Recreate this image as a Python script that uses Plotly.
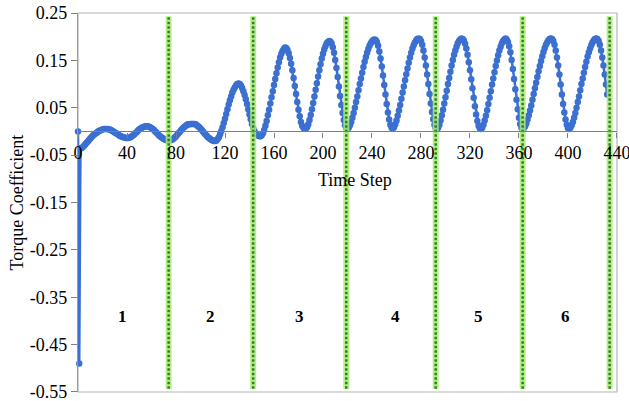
import plotly.graph_objects as go

# ---- data ----
time_step_start = 0
torque_coeff = [
    0.000, -0.490,
    # t=2..23
    -0.036, -0.035, -0.033, -0.030, -0.027, -0.024, -0.021, -0.018, -0.015, -0.012, -0.009,
    -0.007, -0.005, -0.003, -0.001, 0.001, 0.002, 0.003, 0.004, 0.005, 0.005, 0.005,
    # t=24..40
    0.005, 0.004, 0.004, 0.003, 0.001, 0.000, -0.002, -0.004, -0.005, -0.007, -0.009,
    -0.010, -0.011, -0.012, -0.013, -0.014, -0.014,
    # t=41..56
    -0.014, -0.013, -0.012, -0.010, -0.008, -0.006, -0.003, -0.001, 0.002, 0.004, 0.006,
    0.008, 0.009, 0.010, 0.011, 0.011,
    # t=57..74
    0.011, 0.010, 0.009, 0.007, 0.005, 0.003, 0.000, -0.002, -0.005, -0.008, -0.010,
    -0.012, -0.014, -0.016, -0.017, -0.018, -0.019, -0.019,
    # t=75..94
    -0.019, -0.018, -0.017, -0.015, -0.013, -0.010, -0.007, -0.004, -0.001, 0.002, 0.005,
    0.008, 0.010, 0.012, 0.014, 0.015, 0.015, 0.016, 0.016, 0.016,
    # t=95..112
    0.016, 0.015, 0.013, 0.011, 0.009, 0.006, 0.003, 0.000, -0.003, -0.006, -0.009,
    -0.012, -0.014, -0.016, -0.018, -0.019, -0.020, -0.020,
    # t=113..131
    -0.019, -0.016, -0.012, -0.006, 0.001, 0.009, 0.018, 0.027, 0.037, 0.047, 0.057,
    0.066, 0.074, 0.082, 0.088, 0.093, 0.097, 0.100, 0.101,
    # t=132..149
    0.100, 0.097, 0.092, 0.085, 0.077, 0.068, 0.058, 0.047, 0.036, 0.026, 0.016,
    0.008, 0.001, -0.004, -0.007, -0.009, -0.010, -0.010,
    # t=150..169
    -0.008, -0.004, 0.003, 0.012, 0.022, 0.034, 0.046, 0.059, 0.072, 0.085, 0.098,
    0.111, 0.123, 0.135, 0.146, 0.156, 0.164, 0.170, 0.174, 0.177,
    # t=170..186
    0.176, 0.172, 0.165, 0.155, 0.143, 0.129, 0.113, 0.096, 0.079, 0.062, 0.046,
    0.032, 0.020, 0.012, 0.008, 0.006, 0.006,
    # t=187..205
    0.009, 0.015, 0.024, 0.035, 0.047, 0.060, 0.074, 0.088, 0.102, 0.116, 0.129,
    0.142, 0.154, 0.164, 0.173, 0.180, 0.186, 0.189, 0.191,
    # t=206..220
    0.190, 0.186, 0.178, 0.166, 0.151, 0.134, 0.115, 0.095, 0.075, 0.056, 0.039,
    0.024, 0.013, 0.007, 0.006,
    # t=221..242
    0.008, 0.013, 0.020, 0.029, 0.039, 0.050, 0.062, 0.074, 0.087, 0.100, 0.112,
    0.124, 0.136, 0.147, 0.157, 0.166, 0.174, 0.181, 0.186, 0.190, 0.193, 0.194,
    # t=243..257
    0.193, 0.189, 0.181, 0.169, 0.154, 0.137, 0.118, 0.098, 0.078, 0.058, 0.040,
    0.025, 0.014, 0.008, 0.006,
    # t=258..278
    0.009, 0.015, 0.023, 0.033, 0.044, 0.056, 0.069, 0.082, 0.095, 0.108, 0.121,
    0.133, 0.145, 0.156, 0.166, 0.175, 0.182, 0.188, 0.192, 0.195, 0.196,
    # t=279..293
    0.195, 0.191, 0.183, 0.171, 0.156, 0.139, 0.120, 0.100, 0.079, 0.059, 0.041,
    0.026, 0.014, 0.007, 0.005,
    # t=294..313
    0.008, 0.014, 0.023, 0.034, 0.046, 0.059, 0.072, 0.086, 0.100, 0.113, 0.126,
    0.139, 0.151, 0.162, 0.171, 0.179, 0.186, 0.191, 0.194, 0.196,
    # t=314..329
    0.195, 0.192, 0.185, 0.175, 0.162, 0.146, 0.129, 0.110, 0.091, 0.071, 0.053,
    0.036, 0.022, 0.012, 0.007, 0.005,
    # t=330..349
    0.008, 0.014, 0.023, 0.033, 0.045, 0.058, 0.071, 0.085, 0.099, 0.112, 0.125,
    0.138, 0.150, 0.161, 0.171, 0.179, 0.186, 0.191, 0.194, 0.196,
    # t=350..363
    0.194, 0.189, 0.180, 0.167, 0.151, 0.132, 0.111, 0.089, 0.067, 0.047, 0.029,
    0.016, 0.008, 0.005,
    # t=364..386
    0.007, 0.011, 0.017, 0.025, 0.034, 0.044, 0.055, 0.067, 0.079, 0.091, 0.103,
    0.115, 0.127, 0.138, 0.149, 0.159, 0.168, 0.176, 0.183, 0.188, 0.192, 0.195, 0.196,
    # t=387..401
    0.195, 0.191, 0.183, 0.171, 0.156, 0.139, 0.120, 0.099, 0.078, 0.058, 0.040,
    0.025, 0.014, 0.007, 0.005,
    # t=402..423
    0.008, 0.013, 0.020, 0.029, 0.039, 0.050, 0.062, 0.074, 0.087, 0.100, 0.112,
    0.124, 0.136, 0.147, 0.158, 0.167, 0.175, 0.182, 0.188, 0.192, 0.195, 0.196,
    # t=424..432
    0.195, 0.191, 0.183, 0.171, 0.156, 0.139, 0.120, 0.099, 0.078,
]
time_steps = list(range(time_step_start, time_step_start + len(torque_coeff)))

boundary_steps = [74, 143, 219, 292, 363, 434]
boundary_y = [-0.543, 0.243]

region_labels = ["1", "2", "3", "4", "5", "6"]
region_label_x = [36, 108, 181, 259, 327, 398]
region_label_y = -0.39

x_ticks = [0, 40, 80, 120, 160, 200, 240, 280, 320, 360, 400, 440]
y_ticks = [-0.55, -0.45, -0.35, -0.25, -0.15, -0.05, 0.05, 0.15, 0.25]
y_tick_text = ["-0.55", "-0.45", "-0.35", "-0.25", "-0.15", "-0.05", "0.05", "0.15", "0.25"]

FONT = "Liberation Serif, Times New Roman, serif"
BLUE = "#3b6fd0"

fig = go.Figure()

fig.add_trace(go.Scatter(
    x=time_steps, y=torque_coeff, mode="lines+markers",
    line=dict(color=BLUE, width=2.5),
    marker=dict(color=BLUE, size=6.5),
    cliponaxis=False, showlegend=False, hoverinfo="skip",
))

for g in boundary_steps:
    fig.add_trace(go.Scatter(
        x=[g, g], y=boundary_y, mode="lines",
        line=dict(color="rgba(168,236,110,0.85)", width=6),
        showlegend=False, hoverinfo="skip", cliponaxis=False,
    ))
    fig.add_trace(go.Scatter(
        x=[g, g], y=boundary_y, mode="lines",
        line=dict(color="#2f7d2f", width=2.5, dash="2.5px,2px"),
        showlegend=False, hoverinfo="skip", cliponaxis=False,
    ))

annotations = []
for lab, lx in zip(region_labels, region_label_x):
    annotations.append(dict(
        x=lx, y=region_label_y, xref="x", yref="y", text=f"<b>{lab}</b>",
        showarrow=False, font=dict(family=FONT, size=17, color="black"),
    ))
annotations.append(dict(
    x=226, y=-0.102, xref="x", yref="y", text="Time Step", showarrow=False,
    xanchor="center", yanchor="middle",
    font=dict(family=FONT, size=18, color="black"),
))
annotations.append(dict(
    x=-0.115, y=0.5, xref="paper", yref="paper", text="Torque Coefficient",
    xanchor="center", yanchor="middle",
    textangle=-90, showarrow=False, font=dict(family=FONT, size=18, color="black"),
))

fig.update_layout(
    width=629, height=401,
    margin=dict(l=78, r=12, t=13, b=9),
    paper_bgcolor="white", plot_bgcolor="white",
    annotations=annotations,
    shapes=[dict(type="rect", xref="paper", yref="paper", x0=0, x1=1, y0=0, y1=1,
                 line=dict(color="#b4b4b4", width=1.2), layer="below")],
    xaxis=dict(
        range=[0, 440.01], tickvals=x_ticks, ticks="outside", ticklen=5,
        tickcolor="#7f7f7f", showline=True, linecolor="#7f7f7f", linewidth=1.2,
        anchor="free", position=0.6875, showgrid=False, zeroline=False,
        ticklabeloverflow="allow", automargin=False,
        tickfont=dict(family=FONT, size=18, color="black"),
    ),
    yaxis=dict(
        range=[-0.5501, 0.2501], tickvals=y_ticks, ticktext=y_tick_text,
        ticks="outside", ticklen=6, tickcolor="#7f7f7f", showline=True,
        linecolor="#9a9a9a", linewidth=1.2, showgrid=False, zeroline=False,
        ticklabeloverflow="allow", automargin=False,
        tickfont=dict(family=FONT, size=18, color="black"),
    ),
)

fig.write_html(
    "out.html",
    config={"displayModeBar": False},
    post_script="document.body.style.margin='0';document.body.style.overflow='hidden';",
)
